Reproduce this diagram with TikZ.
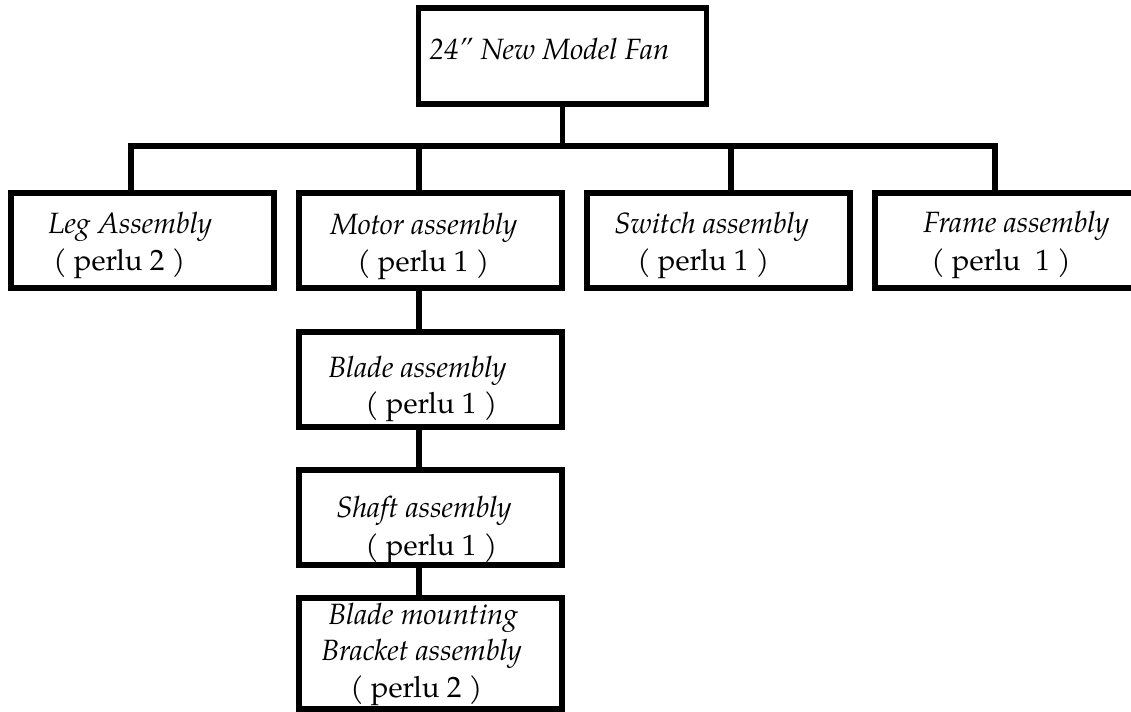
\documentclass[tikz,border=0pt]{standalone}
\usepackage{fontspec}
\setmainfont{TeX Gyre Pagella}
\begin{document}
\begin{tikzpicture}[x=0.75pt,y=-0.75pt,
  box/.style={draw=black, line width=4pt, rectangle, inner sep=0pt,
              minimum width=197.25pt, minimum height=71.25pt},
  link/.style={draw=black, line width=4pt, line join=miter},
  txt/.style={anchor=base west, inner sep=0pt, font=\fontsize{22pt}{26pt}\selectfont},
  ]
\useasboundingbox (0,0) rectangle (1131,711);

% boxes of the product tree
\node[box, minimum width=216pt, minimum height=72pt] (top) at (562.5,56) {};
\node[box] (leg)    at (142.5,240.5) {};
\node[box] (motor)  at (430.5,240.5) {};
\node[box] (switch) at (718.5,240.5) {};
\node[box] (frame)  at (1006.5,240.5) {};
\node[box] (blade)  at (430.5,379.5) {};
\node[box] (shaft)  at (430.5,517.5) {};
\node[box, minimum height=83.25pt] (bracket) at (430.5,653.5) {};

% bus joints
\coordinate (hub)     at (562.5,146);
\coordinate (jLeg)    at (131,146);
\coordinate (jMotor)  at (419,146);
\coordinate (jSwitch) at (731,146);
\coordinate (jFrame)  at (995,146);

% connectors
\draw[link] (top.south) -- (hub);
\draw[link] (jLeg |- leg.north) -- (jLeg) -- (jFrame) -- (jFrame |- frame.north);
\draw[link] (jMotor) -- (jMotor |- motor.north);
\draw[link] (jSwitch) -- (jSwitch |- switch.north);
\draw[link] (jMotor |- motor.south) -- (jMotor |- blade.north);
\draw[link] (jMotor |- blade.south) -- (jMotor |- shaft.north);
\draw[link] (jMotor |- shaft.south) -- (jMotor |- bracket.north);

% labels
\node[txt] (tTop) at (429,59) {\itshape 24{\char"0022} New Model Fan};

\node[txt] (tLeg1) at (48,233) {\itshape Leg Assembly};
\node[txt] (tLeg2) at (53,270) {( perlu 2 \textit{)}};

\node[txt] (tMot1) at (330,234) {\itshape Motor assembly};
\node[txt] (tMot2) at (357,271) {( perlu 1 \textit{)}};

\node[txt] (tSw1) at (614,233) {\itshape Switch assembly};
\node[txt] (tSw2) at (637,270) {( perlu 1 \textit{)}};

\node[txt] (tFr1) at (923,232) {\itshape Frame assembly};
\node[txt] (tFr2) at (931,270) {( perlu\ \ 1 \textit{)}};

\node[txt] (tBl1) at (328,377) {\itshape Blade assembly};
\node[txt] (tBl2) at (365,413) {( perlu 1 )};

\node[txt] (tSh1) at (336,517) {\itshape Shaft assembly};
\node[txt] (tSh2) at (365,555) {( perlu 1 )};

\node[txt] (tBr1) at (328,624) {\itshape Blade mounting};
\node[txt] (tBr2) at (321,660) {\itshape Bracket assembly};
\node[txt] (tBr3) at (350,697) {( perlu 2 )};
\end{tikzpicture}
\end{document}
